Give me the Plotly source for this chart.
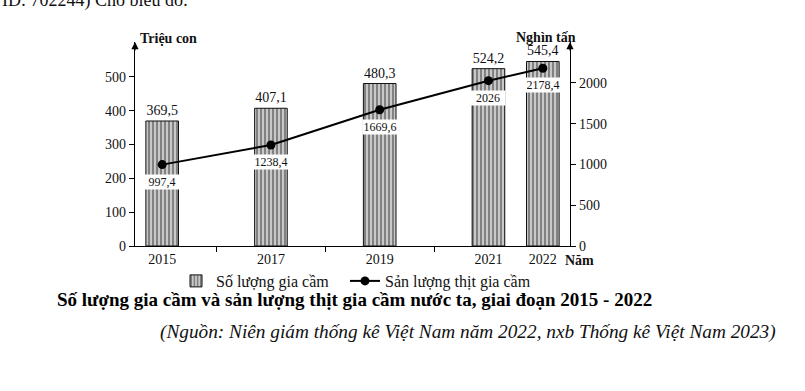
import plotly.graph_objects as go

years = [2015, 2017, 2019, 2021, 2022]
year_labels = ["2015", "2017", "2019", "2021", "2022"]
poultry_heads = [369.5, 407.1, 480.3, 524.2, 545.4]          # Triệu con
poultry_meat = [997.4, 1238.4, 1669.6, 2026.0, 2178.4]      # Nghìn tấn
left_ticks = [0, 100, 200, 300, 400, 500]
right_ticks = [0, 500, 1000, 1500, 2000]
divider_ticks = [2016, 2018, 2020]


def vn(v):
    s = ("%.1f" % v)
    if s.endswith(".0"):
        s = s[:-2]
    return s.replace(".", ",")


FONT = "Liberation Serif"
W, H = 805, 391
L, R, T, B = 135, 235, 42, 145
PW, PH = W - L - R, H - T - B


def px(x):
    return (x - L) / PW


def py(y):
    return (T + PH - y) / PH


fig = go.Figure()

fig.add_trace(go.Bar(
    x=years, y=poultry_heads, width=0.6,
    name="Số lượng gia cầm", legend="legend",
    marker=dict(color="#b5b5b5", line=dict(color="#111", width=1),
                pattern=dict(shape="|", size=4, solidity=0.45,
                             fgcolor="#2a2a2a", bgcolor="#c8c8c8")),
    text=[vn(v) for v in poultry_heads], textposition="outside",
    textfont=dict(family=FONT, size=14, color="#111"),
    cliponaxis=False,
))

fig.add_trace(go.Scatter(
    x=years, y=poultry_meat, yaxis="y2", mode="lines+markers",
    name="Sản lượng thịt gia cầm", legend="legend2",
    line=dict(color="#000", width=2),
    marker=dict(color="#000", size=9),
    cliponaxis=False,
))

annotations = []
for x, v in zip(years, poultry_meat):
    annotations.append(dict(
        x=x, y=v, xref="x", yref="y2", text=vn(v), showarrow=False,
        yshift=-17, bgcolor="white", width=34, height=14, borderpad=0,
        font=dict(family=FONT, size=12, color="#111")))

annotations += [
    dict(x=px(138), y=py(29), xref="paper", yref="paper", text="<b>Triệu con</b>",
         showarrow=False, font=dict(family=FONT, size=14, color="#111")),
    dict(x=px(578), y=py(28), xref="paper", yref="paper", text="<b>Nghìn tấn</b>",
         showarrow=False, font=dict(family=FONT, size=14, color="#111")),
    dict(x=px(596), y=py(270), xref="paper", yref="paper", text="<b>Năm</b>",
         showarrow=False, font=dict(family=FONT, size=14, color="#111")),
    dict(x=0, y=1, xref="paper", yref="paper", text="", showarrow=True,
         arrowhead=2, arrowsize=1.2, arrowwidth=1.2, ax=0, ay=10, arrowcolor="#000"),
    dict(x=1, y=1, xref="paper", yref="paper", text="", showarrow=True,
         arrowhead=2, arrowsize=1.2, arrowwidth=1.2, ax=0, ay=10, arrowcolor="#000"),
    dict(x=px(55), y=py(312), xref="paper", yref="paper", xanchor="left",
         text="<b>Số lượng gia cầm và sản lượng thịt gia cầm nước ta, giai đoạn 2015 - 2022</b>",
         showarrow=False, font=dict(family=FONT, size=19, color="#000")),
    dict(x=px(158), y=py(345), xref="paper", yref="paper", xanchor="left",
         text="<i>(Nguồn: Niên giám thống kê Việt Nam năm 2022, nxb Thống kê Việt Nam 2023)</i>",
         showarrow=False, font=dict(family=FONT, size=19.3, color="#111")),
    dict(x=px(0), y=py(0), xref="paper", yref="paper", xanchor="left", yanchor="middle",
         text="ID: 702244) Cho biểu đồ:", showarrow=False,
         font=dict(family=FONT, size=18, color="#111")),
]

legend_common = dict(orientation="h", yanchor="middle", xanchor="left",
                     font=dict(family=FONT, size=16, color="#111"),
                     itemwidth=30, bgcolor="rgba(0,0,0,0)")

fig.update_layout(
    width=W, height=H,
    margin=dict(l=L, r=R, t=T, b=B, autoexpand=False),
    plot_bgcolor="white", paper_bgcolor="white",
    font=dict(family=FONT, size=14, color="#111"),
    showlegend=True,
    legend=dict(x=px(176), y=py(281), **legend_common),
    legend2=dict(x=px(345), y=py(281), **legend_common),
    xaxis=dict(range=[2014.5, 2022.5], tickvals=years, ticktext=year_labels,
               ticks="", showline=True, linecolor="#000", linewidth=1.2,
               showgrid=False, zeroline=False,
               minor=dict(tickvals=divider_ticks, ticks="outside", ticklen=5,
                          tickcolor="#000", showgrid=False),
               tickfont=dict(family=FONT, size=14)),
    yaxis=dict(range=[0, 603], tickvals=left_ticks, ticks="outside", ticklen=5,
               tickcolor="#000", showline=True, linecolor="#000", linewidth=1.2,
               showgrid=False, zeroline=False, tickfont=dict(family=FONT, size=14)),
    yaxis2=dict(range=[0, 2500], tickvals=right_ticks, ticks="outside", ticklen=5,
                tickcolor="#000", showline=True, linecolor="#000", linewidth=1.2,
                overlaying="y", side="right", showgrid=False, zeroline=False,
                tickfont=dict(family=FONT, size=14)),
    annotations=annotations,
)

fig.write_html("out.html", config={"displayModeBar": False},
               post_script="document.body.style.margin='0px';")
